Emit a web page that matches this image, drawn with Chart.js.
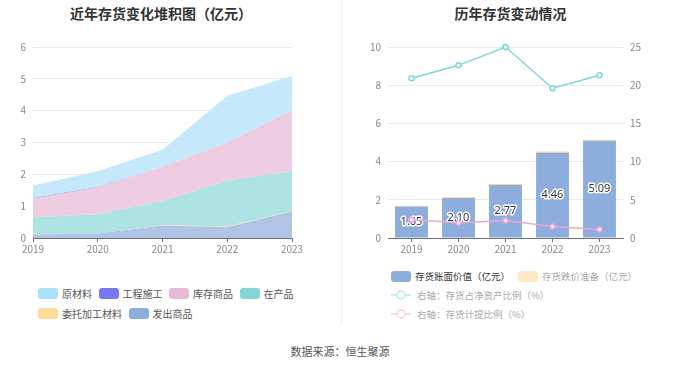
<!DOCTYPE html>
<html><head><meta charset="utf-8">
<script src="https://cdn.jsdelivr.net/npm/chart.js@4.4.0/dist/chart.umd.min.js"></script>
<style>
body{margin:0;width:680px;height:367px;position:relative;background:#fff;font-family:"Noto Sans CJK SC","Noto Sans",sans-serif;overflow:hidden}
.title{position:absolute;top:4px;height:18px;line-height:18px;font-size:14px;font-weight:bold;color:#333;text-align:center}
.divider{position:absolute;left:341px;top:0;width:1px;height:325px;background:#f0f0f0}
.footer{position:absolute;left:0;width:680px;top:343px;line-height:16px;font-size:11px;color:#555;text-align:center}
canvas{position:absolute;top:0}
.legend{position:absolute;display:flex;flex-wrap:wrap;column-gap:6.5px;row-gap:8px}
.item{display:flex;align-items:center;height:12px;white-space:nowrap}
.sw{width:20px;height:11px;border-radius:3px;margin-right:4px}
.item svg{margin-right:6px}
</style>
</head><body>
<div class="title" style="left:0;width:322px">近年存货变化堆积图（亿元）</div>
<div class="title" style="left:341px;width:339px">历年存货变动情况</div>
<div class="divider"></div>
<canvas id="left" width="341" height="260" style="left:0;width:341px;height:260px"></canvas>
<canvas id="right" width="339" height="260" style="left:341px;width:339px;height:260px"></canvas>
<div class="legend" id="legL" style="left:38px;top:287px;width:262px;font-size:10px;color:#555"></div>
<div class="legend" id="legR" style="left:391px;top:270px;width:252px;font-size:9.5px;row-gap:7px;column-gap:8px"></div>
<div class="footer">数据来源：恒生聚源</div>
<script>
// ---- data ----
const years = ['2019','2020','2021','2022','2023'];
// stacked inventory composition (亿元)
const rawMaterial   = [0.39, 0.50, 0.53, 1.47, 1.08]; // 原材料
const construction  = [0.03, 0.01, 0.00, 0.00, 0.00]; // 工程施工
const finishedGoods = [0.58, 0.84, 1.08, 1.19, 1.91]; // 库存商品
const wip           = [0.55, 0.61, 0.76, 1.45, 1.25]; // 在产品
const consigned     = [0.00, 0.00, 0.01, 0.02, 0.01]; // 委托加工材料
const shipped       = [0.10, 0.14, 0.39, 0.34, 0.84]; // 发出商品
// right chart
const bookValue      = [1.65, 2.10, 2.77, 4.46, 5.09]; // 存货账面价值（亿元）
const reserve        = [0.04, 0.04, 0.06, 0.07, 0.06]; // 存货跌价准备（亿元）
const ratioNetAssets = [20.9, 22.6, 25.0, 19.6, 21.3]; // 存货占净资产比例（%）
const provisionRatio = [2.4, 2.0, 2.3, 1.5, 1.1];     // 存货计提比例（%）
const leftTicks = [0,1,2,3,4,5,6];
const rightTicksL = [0,2,4,6,8,10];
const rightTicksR = [0,5,10,15,20,25];

const tickFont = {family:'"Noto Sans CJK SC","Noto Sans",sans-serif', size:10};
const tickColor = '#888';
const axisColor = '#6e7079';
const gridColor = '#e6e9f0';

// ---- left stacked area ----
const leftSeries = [
  {label:'发出商品', data:shipped, fill:'origin', bg:'#b0c4e5', sw:'#8daedc'},
  {label:'委托加工材料', data:consigned, fill:'-1', bg:'#f6dd9e', sw:'#fdd99a'},
  {label:'在产品', data:wip, fill:'-1', bg:'#ade3e3', sw:'#84d6d8'},
  {label:'库存商品', data:finishedGoods, fill:'-1', bg:'#eecde3', sw:'#e9b9d9'},
  {label:'工程施工', data:construction, fill:'-1', bg:'#9a9af2', sw:'#7878f0'},
  {label:'原材料', data:rawMaterial, fill:'-1', bg:'#c5e9fa', sw:'#a9e1f8'}
];
new Chart(document.getElementById('left'), {
  type:'line',
  data:{labels:years, datasets:leftSeries.map(s=>({label:s.label,data:s.data,fill:s.fill,backgroundColor:s.bg,borderColor:s.bg,borderWidth:0,pointRadius:0,tension:0}))},
  options:{
    responsive:false, animation:false, devicePixelRatio:1,
    layout:{padding:{left:0,right:49,top:47,bottom:0}},
    plugins:{legend:{display:false},tooltip:{enabled:false},title:{display:false}},
    scales:{
      x:{offset:false,
         grid:{display:true,drawOnChartArea:false,color:axisColor,tickLength:4},
         border:{color:axisColor},
         ticks:{color:tickColor,font:tickFont,padding:1,maxRotation:0,autoSkip:false},
         afterFit:s=>{s.height=22;}},
      y:{stacked:true,min:0,max:6,
         afterBuildTicks:s=>{s.ticks=leftTicks.map(v=>({value:v}));},
         ticks:{color:tickColor,font:tickFont,padding:7},
         grid:{color:gridColor,drawTicks:false},
         border:{display:false},
         afterFit:s=>{s.width=33;}}
    }
  }
});
// legend (reverse stack order)
const legL = document.getElementById('legL');
leftSeries.slice().reverse().forEach(s=>{
  const d=document.createElement('div');d.className='item';
  d.innerHTML='<span class="sw" style="background:'+s.sw+'"></span><span>'+s.label+'</span>';
  legL.appendChild(d);
});

// ---- right combo ----
const barLabels = {
  id:'barLabels',
  afterDatasetDraw(chart,args){
    if(args.index!==0) return;
    const ctx=chart.ctx; ctx.save();
    ctx.font='11px "Noto Sans","Noto Sans CJK SC",sans-serif';
    ctx.textAlign='center';ctx.textBaseline='middle';
    ctx.lineWidth=3;ctx.lineJoin='round';ctx.strokeStyle='#fff';ctx.fillStyle='#333';
    args.meta.data.forEach((b,i)=>{
      const y=(b.y+b.base)/2, t=bookValue[i].toFixed(2);
      ctx.strokeText(t,b.x,y);ctx.fillText(t,b.x,y);
    });
    ctx.restore();
  }
};
const teal='#80d4dd', pink='#e8a8d8';
new Chart(document.getElementById('right'), {
  type:'bar',
  data:{labels:years, datasets:[
    {label:'存货账面价值（亿元）',data:bookValue,backgroundColor:'#8daedc',stack:'s',order:2,yAxisID:'y',barPercentage:0.7,categoryPercentage:1},
    {label:'存货跌价准备（亿元）',data:reserve,backgroundColor:'#fcd594',stack:'s',order:2,yAxisID:'y',barPercentage:0.7,categoryPercentage:1},
    {type:'line',label:'右轴：存货占净资产比例（%）',data:ratioNetAssets,yAxisID:'y1',borderColor:teal,borderWidth:1.5,pointRadius:2.5,pointBorderWidth:1.5,pointBackgroundColor:'#fff',pointBorderColor:teal,tension:0,order:1,fill:false,clip:false},
    {type:'line',label:'右轴：存货计提比例（%）',data:provisionRatio,yAxisID:'y1',borderColor:pink,borderWidth:1.5,pointRadius:2.5,pointBorderWidth:1.5,pointBackgroundColor:'#f6e0f0',pointBorderColor:pink,tension:0,order:1,fill:false,clip:false}
  ]},
  options:{
    responsive:false, animation:false, devicePixelRatio:1,
    layout:{padding:{left:0,right:0,top:47,bottom:0}},
    plugins:{legend:{display:false},tooltip:{enabled:false},title:{display:false}},
    scales:{
      x:{stacked:true,offset:true,
         grid:{display:true,offset:false,drawOnChartArea:false,color:axisColor,tickLength:4},
         border:{color:axisColor},
         ticks:{color:tickColor,font:tickFont,padding:1,maxRotation:0,autoSkip:false},
         afterFit:s=>{s.height=22;}},
      y:{stacked:true,position:'left',min:0,max:10,
         afterBuildTicks:s=>{s.ticks=rightTicksL.map(v=>({value:v}));},
         ticks:{color:tickColor,font:tickFont,padding:7},
         grid:{color:gridColor,drawTicks:false},
         border:{display:false},
         afterFit:s=>{s.width=47;}},
      y1:{stacked:false,position:'right',min:0,max:25,
         afterBuildTicks:s=>{s.ticks=rightTicksR.map(v=>({value:v}));},
         ticks:{color:tickColor,font:tickFont,padding:7},
         grid:{display:false,drawTicks:false},
         border:{display:false},
         afterFit:s=>{s.width=57;}}
    }
  },
  plugins:[barLabels]
});
const legR=document.getElementById('legR');
const rItems=[
  {label:'存货账面价值（亿元）',type:'box',c:'#8daedc',tc:'#333'},
  {label:'存货跌价准备（亿元）',type:'box',c:'#fde8c6',tc:'#aaa'},
  {label:'右轴：存货占净资产比例（%）',type:'line',c:'#b5e8ee',tc:'#aaa'},
  {label:'右轴：存货计提比例（%）',type:'line',c:'#f5cde6',tc:'#aaa'}
];
rItems.forEach((it,i)=>{
  const d=document.createElement('div');d.className='item';
  if(i>=2) d.style.flexBasis='100%';
  const icon = it.type==='box'
    ? '<span class="sw" style="background:'+it.c+'"></span>'
    : '<svg width="20" height="12"><line x1="0" y1="6" x2="20" y2="6" stroke="'+it.c+'" stroke-width="1.5"/><circle cx="10" cy="6" r="4" fill="#fff" stroke="'+it.c+'" stroke-width="1.5"/></svg>';
  d.innerHTML=icon+'<span style="color:'+it.tc+'">'+it.label+'</span>';
  legR.appendChild(d);
});
</script>
</body></html>
